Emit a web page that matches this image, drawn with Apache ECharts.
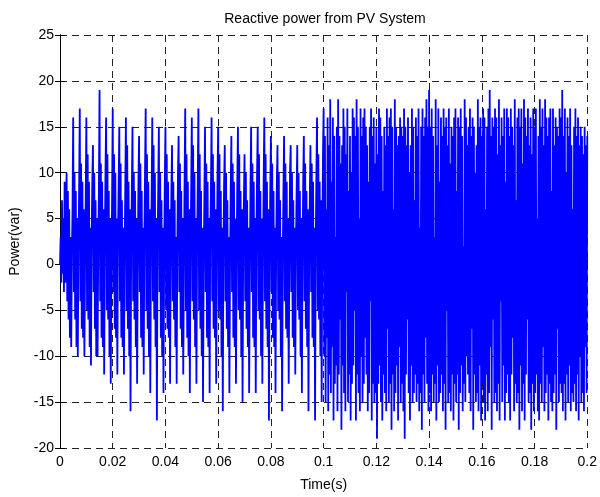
<!DOCTYPE html>
<html>
<head>
<meta charset="utf-8">
<script src="https://cdn.jsdelivr.net/npm/echarts@6/dist/echarts.min.js"></script>
<style>
  html, body { margin: 0; padding: 0; background: #fff; }
  #chart { width: 600px; height: 497px; }
</style>
</head>
<body>
<div id="chart"></div>
<script>
// sample spacing of the trace (s)
const sampleStep = 0.00025;

// reactive power (var), 0 .. 0.09975 s
const powerFirstHalf = [
  0, 3, -2, 7, -1, 5, -3, 9, -2, 4, 10, -4, 8, -6, 6, -8, 3, -9, 1, 6,
  16, -3, 10, -6, 8, -9, 5, -10, 2, 8, 17, -4, 11, -7, 9, -8, 6, -10, 0, 7,
  16, -5, 12, -6, 9, -9, 4, -11, 3, 9, 13, -3, 10, -7, 7, -10, 5, -10, 1, 8,
  19, -4, 11, -8, 9, -9, 6, -12, 2, 10, 16, -5, 12, -6, 8, -10, 5, -13, 0, 7,
  17, -3, 12, -7, 10, -8, 5, -12, 3, 9, 15, -4, 11, -8, 7, -9, 4, -12, 1, 8,
  16, -5, 13, -7, 9, -10, 6, -16, 2, 8, 15, -4, 10, -6, 8, -9, 5, -13, 0, 9,
  14, -3, 11, -8, 8, -9, 4, -12, 3, 10, 17, -5, 12, -7, 9, -10, 6, -14, 1, 7,
  16, -4, 13, -6, 10, -9, 5, -17, 2, 8, 15, -3, 10, -8, 7, -10, 4, -14, 0, 9,
  15, -5, 12, -7, 9, -8, 6, -13, 1, 8, 13, -4, 9, -6, 7, -9, 3, -13, 2, 10,
  14, -3, 11, -7, 8, -9, 5, -12, 0, 9, 17, -5, 12, -8, 9, -10, 6, -14, 1, 8,
  16, -4, 13, -6, 10, -9, 5, -13, 2, 9, 17, -5, 12, -7, 8, -10, 4, -15, 0, 7,
  15, -3, 11, -8, 9, -9, 5, -14, 3, 8, 16, -4, 12, -7, 9, -8, 6, -13, 1, 10,
  15, -5, 12, -6, 8, -10, 4, -16, 2, 9, 13, -4, 10, -7, 7, -9, 3, -14, 0, 8,
  14, -3, 11, -8, 9, -9, 5, -13, 1, 9, 15, -5, 12, -6, 8, -10, 6, -15, 2, 7,
  12, -4, 10, -7, 7, -9, 4, -14, 0, 8, 15, -3, 11, -8, 9, -9, 5, -14, 3, 10,
  15, -5, 12, -6, 8, -10, 5, -13, 1, 9, 16, -4, 12, -7, 9, -9, 6, -17, 0, 8,
  14, -3, 11, -8, 8, -9, 4, -14, 2, 9, 13, -5, 10, -6, 7, -10, 3, -16, 1, 8,
  14, -4, 11, -7, 9, -8, 5, -13, 0, 10, 13, -3, 10, -8, 7, -9, 4, -12, 2, 8,
  13, -5, 10, -6, 8, -10, 5, -14, 1, 9, 14, -4, 11, -7, 8, -9, 6, -16, 0, 7,
  13, -3, 11, -8, 9, -9, 4, -17, 2, 10, 16, -5, 12, -6, 9, -10, 7, -15, 3, 12
];

// 0.1 .. 0.2 s, denser switching
const powerSecondHalf = [
  17, -10, 14, -15, 6, -8, 16, -16, 13, -12, 18, -14, 9, -9, 16, -17, 14, -13, 3, -11,
  15, -16, 18, -12, 14, -6, 11, -18, 13, -11, 17, -14, 15, -16, 12, -3, 17, -15, 8, -12,
  14, -17, 10, -13, 17, -11, 16, -5, 14, -17, 18, -12, 15, -14, 5, -16, 17, -10, 14, -15,
  16, -13, 17, -8, 15, -12, 13, -16, 9, -14, 15, -4, 17, -17, 14, -13, 16, -15, 11, -14,
  15, -19, 12, -13, 17, -11, 16, -15, 14, -17, 8, -12, 15, -14, 13, -16, 17, -7, 14, -15,
  16, -13, 17, -18, 15, -12, 6, -16, 18, -14, 15, -11, 13, -17, 14, -9, 16, -15, 15, -13,
  14, -16, 17, -19, 15, -12, 13, -6, 16, -14, 10, -17, 13, -11, 17, -15, 15, -14, 7, -12,
  16, -15, 14, -13, 17, -16, 4, -14, 15, -18, 17, -12, 14, -15, 16, -8, 18, -13, 15, -16,
  19, -14, 15, -16, 17, -12, 14, -15, 3, -13, 18, -17, 13, -11, 17, -15, 9, -14, 16, -12,
  14, -16, 17, -13, 15, -18, 16, -5, 13, -15, 17, -14, 11, -16, 15, -12, 14, -17, 16, -13,
  17, -15, 8, -12, 16, -18, 15, -14, 17, -11, 14, -16, 2, -13, 18, -15, 16, -10, 13, -12,
  15, -14, 17, -16, 14, -7, 16, -18, 15, -12, 10, -15, 13, -14, 18, -16, 15, -11, 16, -17,
  14, -13, 17, -15, 16, -17, 6, -12, 15, -16, 17, -14, 19, -9, 14, -18, 16, -6, 15, -15,
  17, -14, 16, -16, 12, -13, 18, -17, 13, -4, 16, -15, 14, -11, 17, -17, 9, -14, 17, -12,
  16, -15, 14, -17, 17, -12, 15, -8, 13, -16, 18, -13, 7, -15, 16, -14, 17, -18, 15, -11,
  17, -16, 11, -13, 18, -17, 16, -12, 14, -6, 17, -15, 13, -14, 16, -18, 12, -13, 17, -16,
  15, -14, 17, -12, 5, -16, 14, -17, 18, -13, 15, -15, 17, -9, 13, -16, 18, -14, 16, -12,
  14, -17, 16, -13, 17, -15, 8, -16, 17, -14, 13, -12, 16, -18, 15, -7, 14, -15, 17, -13,
  16, -14, 19, -16, 14, -13, 17, -17, 10, -12, 16, -15, 14, -11, 17, -16, 13, -14, 6, -15,
  15, -13, 17, -16, 14, -12, 16, -17, 13, -10, 15, -15, 14, -14, 12, -16, 15, -9, 13, -14,
  14
];

const powerValues = powerFirstHalf.concat(powerSecondHalf);
const traceData = powerValues.map((v, i) => [i * sampleStep, v]);

const xTicks = [0, 0.02, 0.04, 0.06, 0.08, 0.1, 0.12, 0.14, 0.16, 0.18, 0.2];
const yTicks = [-20, -15, -10, -5, 0, 5, 10, 15, 20, 25];

const chart = echarts.init(document.getElementById('chart'));

const axisFont = { color: '#000', fontFamily: 'Liberation Sans, Arial, sans-serif', fontSize: 14 };
const gridDash = { show: true, lineStyle: { color: '#222', type: [7, 5], width: 1 } };

const option = {
  animation: false,
  backgroundColor: '#fff',
  title: {
    text: 'Reactive power from PV System',
    left: 320,
    textAlign: 'center',
    top: 7,
    textStyle: { fontFamily: 'Liberation Sans, Arial, sans-serif', fontSize: 14, fontWeight: 'normal', color: '#000' }
  },
  grid: { left: 57, right: 11, top: 35, bottom: 45 },
  xAxis: [
    {
      type: 'value',
      min: xTicks[0],
      max: xTicks[xTicks.length - 1],
      interval: 0.02,
      name: 'Time(s)',
      nameLocation: 'middle',
      nameGap: 30,
      nameTextStyle: axisFont,
      axisLine: { lineStyle: { color: '#000', width: 1 } },
      axisTick: { inside: true, length: 5, lineStyle: { color: '#000' } },
      axisLabel: Object.assign({ margin: 7, formatter: v => String(+v.toFixed(2)) }, axisFont),
      splitLine: gridDash
    },
    {
      type: 'value',
      position: 'top',
      min: xTicks[0],
      max: xTicks[xTicks.length - 1],
      interval: 0.02,
      axisLine: { lineStyle: { color: '#000', width: 1 } },
      axisTick: { inside: true, length: 5, lineStyle: { color: '#000' } },
      axisLabel: { show: false },
      splitLine: { show: false }
    }
  ],
  yAxis: [
    {
      type: 'value',
      min: yTicks[0],
      max: yTicks[yTicks.length - 1],
      interval: 5,
      name: 'Power(var)',
      nameLocation: 'middle',
      nameGap: 38,
      nameTextStyle: axisFont,
      axisLine: { show: true, lineStyle: { color: '#000', width: 1 } },
      axisTick: { show: true, inside: true, length: 5, lineStyle: { color: '#000' } },
      axisLabel: Object.assign({ margin: 6 }, axisFont),
      splitLine: gridDash
    },
    {
      type: 'value',
      position: 'right',
      min: yTicks[0],
      max: yTicks[yTicks.length - 1],
      interval: 5,
      axisLine: { show: true, lineStyle: { color: '#000', width: 1 } },
      axisTick: { show: true, inside: true, length: 5, lineStyle: { color: '#000' } },
      axisLabel: { show: false },
      splitLine: { show: false }
    }
  ],
  series: [
    {
      type: 'line',
      data: traceData,
      showSymbol: false,
      symbol: 'none',
      sampling: null,
      lineStyle: { color: '#0000ff', width: 1.8 },
      clip: true
    }
  ]
};

chart.setOption(option);
</script>
</body>
</html>
